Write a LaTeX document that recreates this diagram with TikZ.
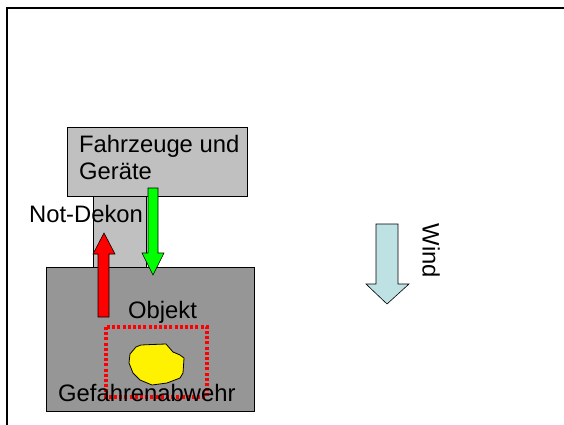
\documentclass[tikz,border=0pt]{standalone}
\usepackage{fontspec}
\setmainfont{Liberation Sans}
\definecolor{lgray}{RGB}{192,192,192}
\definecolor{dgray}{RGB}{150,150,150}
\definecolor{windblue}{RGB}{190,226,228}
\begin{document}
\begin{tikzpicture}[x=1pt,y=-1pt,
  box/.style={draw=black,line width=0.8pt},
  arrowshape/.style={draw=black,line width=0.6pt},
  lbl/.style={inner sep=0pt,font=\fontsize{23.8}{27}\selectfont,align=left}]
\useasboundingbox (0,0) rectangle (564,425);
% frame
\draw[line width=1.4pt] (7,425) -- (7,8) -- (564,8);
% boxes
\filldraw[box,fill=lgray] (93,196) rectangle (146,267);
\filldraw[box,fill=lgray] (67,127) rectangle (247,196);
\filldraw[box,fill=dgray] (46,267) rectangle (254,411);
% red dotted rectangle
\draw[red,line width=3.2pt,dash pattern=on 3pt off 2.2pt] (106,327) rectangle (207,397);
% yellow blob
\filldraw[fill=yellow,draw=black,line width=0.8pt]
  (136,347) -- (141,345) -- (152,344.5) -- (166,344) -- (173,352) -- (180,355) -- (184,358)
  -- (183.5,366) -- (183,373) -- (180,378) -- (167,383) -- (152,385) -- (140,380)
  -- (133,373) -- (129,363) -- (130,354) -- cycle;
% texts
\node[lbl,anchor=west] (fz) at (79,157) {Fahrzeuge und\\Geräte};
\node[lbl,anchor=west] (nd) at (29,214) {Not-Dekon};
\node[lbl,anchor=west] (ob) at (128,312) {Objekt};
\node[lbl,anchor=west] (ga) at (58,393) {Gefahrenabwehr};
\node[lbl,rotate=-90] (wi) at (431,251) {Wind};
% green arrow
\filldraw[arrowshape,fill=green]
  (148,188) -- (158,188) -- (158,253) -- (164,253) -- (153,275) -- (142,253) -- (148,253) -- cycle;
% red arrow
\filldraw[arrowshape,fill=red]
  (98,317) -- (109,317) -- (109,254) -- (115,254) -- (104,233) -- (93,254) -- (98,254) -- cycle;
% wind arrow
\filldraw[arrowshape,fill=windblue]
  (376,224) -- (398,224) -- (398,284) -- (409,284) -- (387,304) -- (366,284) -- (376,284) -- cycle;
\end{tikzpicture}
\end{document}
